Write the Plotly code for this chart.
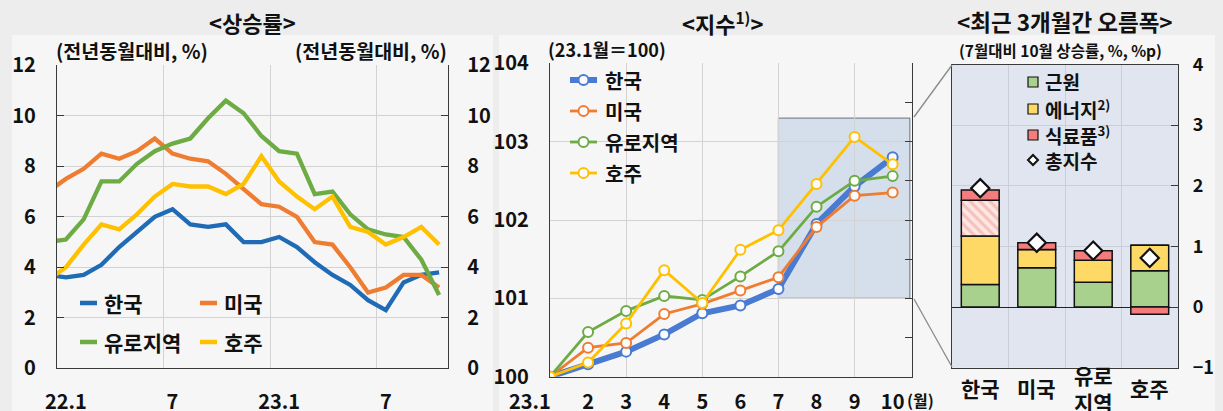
import plotly.graph_objects as go

W, H = 1223, 411
FONT = "Noto Sans CJK KR"

def fx(p):
    return p / W

def fy(p):
    return 1 - p / H

# ---------------- data ----------------
series_names = ["한국", "미국", "유로지역", "호주"]

# Panel 1: 전년동월대비 상승률 (%)
months1 = ["21.12", "22.1", "22.2", "22.3", "22.4", "22.5", "22.6", "22.7", "22.8", "22.9", "22.10",
           "22.11", "22.12", "23.1", "23.2", "23.3", "23.4", "23.5", "23.6", "23.7", "23.8",
           "23.9", "23.10"]
kor1 = [3.7, 3.6, 3.7, 4.1, 4.8, 5.4, 6.0, 6.3, 5.7, 5.6, 5.7, 5.0, 5.0, 5.2, 4.8, 4.2, 3.7, 3.3, 2.7, 2.3, 3.4, 3.7, 3.8]
usa1 = [7.0, 7.5, 7.9, 8.5, 8.3, 8.6, 9.1, 8.5, 8.3, 8.2, 7.7, 7.1, 6.5, 6.4, 6.0, 5.0, 4.9, 4.0, 3.0, 3.2, 3.7, 3.7, 3.2]
eur1 = [5.0, 5.1, 5.9, 7.4, 7.4, 8.1, 8.6, 8.9, 9.1, 9.9, 10.6, 10.1, 9.2, 8.6, 8.5, 6.9, 7.0, 6.1, 5.5, 5.3, 5.2, 4.3, 2.9]
aus1 = [3.5, 4.0, 4.9, 5.7, 5.5, 6.1, 6.8, 7.3, 7.2, 7.2, 6.9, 7.3, 8.4, 7.4, 6.8, 6.3, 6.8, 5.6, 5.4, 4.9, 5.2, 5.6, 4.9]
ticklabels1 = ["22.1", "7", "23.1", "7"]
ticklabel_months1 = ["22.1", "22.7", "23.1", "23.7"]
colors1 = ["#1f6bb6", "#ee7d32", "#6dab45", "#ffc000"]

# Panel 2: 지수 (23.1월=100)
months2 = ["23.1", "2", "3", "4", "5", "6", "7", "8", "9", "10"]
kor2 = [100.0, 100.16, 100.32, 100.54, 100.81, 100.91, 101.12, 101.95, 102.43, 102.80]
usa2 = [100.0, 100.37, 100.43, 100.80, 100.93, 101.10, 101.27, 101.91, 102.31, 102.35]
eur2 = [100.0, 100.57, 100.84, 101.03, 100.98, 101.28, 101.60, 102.17, 102.50, 102.56]
aus2 = [100.0, 100.18, 100.68, 101.36, 100.94, 101.62, 101.87, 102.46, 103.06, 102.71]
colors2 = ["#4a7bd2", "#ee7d32", "#6dab45", "#ffc000"]
zoom_box = {"x0": 7, "x1": 10.45, "y0": 101.0, "y1": 103.3}

# Panel 3: 최근 3개월간 오름폭 (7월대비 10월, %, %p)
categories3 = ["한국", "미국", "유로지역", "호주"]
category_labels3 = ["한국", "미국", "유로<br>지역", "호주"]
core3 = [0.37, 0.65, 0.41, 0.60]
energy3 = [0.80, 0.30, 0.36, 0.42]
food_hatched3 = [0.59, 0.0, 0.0, 0.0]
food3 = [0.17, 0.11, 0.16, -0.12]
total3 = [1.96, 1.06, 0.93, 0.81]
comp_names3 = ["근원", "에너지", "식료품", "총지수"]
comp_colors3 = ["#a9d18e", "#ffd966", "#f47c7c"]

# ---------------- figure ----------------
fig = go.Figure()

# Panel 1 lines
x1 = list(range(len(months1)))
for name, vals, col in zip(series_names, [kor1, usa1, eur1, aus1], colors1):
    fig.add_trace(go.Scatter(x=x1, y=vals, name=name, mode="lines",
                             line=dict(color=col, width=4.3),
                             xaxis="x", yaxis="y", showlegend=False, hoverinfo="skip"))
fig.add_trace(go.Scatter(x=[None], y=[None], xaxis="x", yaxis="y2", showlegend=False, hoverinfo="skip"))

# Panel 2 lines with markers
x2 = list(range(1, len(months2) + 1))
for i, (name, vals, col) in enumerate(zip(series_names, [kor2, usa2, eur2, aus2], colors2)):
    fig.add_trace(go.Scatter(x=x2, y=vals, name=name, mode="lines+markers",
                             line=dict(color=col, width=6 if i == 0 else 2.8),
                             marker=dict(symbol="circle", size=10, color="#fbfbfb",
                                         line=dict(color=col, width=2)),
                             xaxis="x2", yaxis="y3", showlegend=False, hoverinfo="skip"))
fig.add_trace(go.Scatter(x=[None], y=[None], xaxis="x2", yaxis="y4", showlegend=False, hoverinfo="skip"))

# Panel 3 stacked bars
bar_line = dict(color="#111111", width=1.5)
fig.add_trace(go.Bar(x=categories3, y=core3, name=comp_names3[0], width=0.67,
                     marker=dict(color=comp_colors3[0], line=bar_line),
                     xaxis="x3", yaxis="y5", showlegend=False, hoverinfo="skip"))
fig.add_trace(go.Bar(x=categories3, y=energy3, name=comp_names3[1], width=0.67,
                     marker=dict(color=comp_colors3[1], line=bar_line),
                     xaxis="x3", yaxis="y5", showlegend=False, hoverinfo="skip"))
fig.add_trace(go.Bar(x=categories3, y=food_hatched3, name=comp_names3[2] + "(빗금)", width=0.67,
                     marker=dict(color="#fde6e3", line=bar_line,
                                 pattern=dict(shape="\\", fgcolor="#f29a93", size=7, solidity=0.45)),
                     xaxis="x3", yaxis="y5", showlegend=False, hoverinfo="skip"))
fig.add_trace(go.Bar(x=categories3, y=food3, name=comp_names3[2], width=0.67,
                     marker=dict(color=comp_colors3[2], line=bar_line),
                     xaxis="x3", yaxis="y5", showlegend=False, hoverinfo="skip"))
fig.add_trace(go.Scatter(x=categories3, y=total3, name=comp_names3[3], mode="markers",
                         marker=dict(symbol="diamond", size=14, color="white",
                                     line=dict(color="#111111", width=2.2)),
                         xaxis="x3", yaxis="y5", showlegend=False, hoverinfo="skip"))

tickfont = dict(family=FONT, size=20, color="#111111", weight="bold")
axis_line = "#3a3a3a"
grid_col = "#d3d3d3"

layout = dict(
    width=W, height=H,
    margin=dict(l=0, r=0, t=0, b=0, autoexpand=False),
    paper_bgcolor="#ededed",
    plot_bgcolor="rgba(0,0,0,0)",
    barmode="relative",
    showlegend=False,
    font=dict(family=FONT, color="#111111"),
    # panel 1
    xaxis=dict(domain=[fx(57), fx(448)], anchor="y", range=[0.5, len(months1) - 0.5],
               tickvals=[months1.index(m) for m in ticklabel_months1], ticktext=ticklabels1,
               showgrid=False, ticks="", showline=True, linecolor=axis_line, linewidth=1.3,
               tickfont=tickfont, ticklabelstandoff=16, zeroline=False, automargin=False, tickangle=0,
               minor=dict(tickvals=[months1.index(m) - 0.5 for m in ticklabel_months1[1:]],
                          showgrid=True, gridcolor=grid_col, gridwidth=1, ticks="")),
    yaxis=dict(domain=[fy(368.3), fy(65.3)], anchor="x", range=[0, 12], dtick=2,
               showgrid=True, gridcolor=grid_col, ticks="inside", ticklen=7, tickcolor=axis_line,
               showline=True, linecolor=axis_line, linewidth=1.3, zeroline=False, automargin=False,
               tickfont=tickfont, ticklabelstandoff=16),
    yaxis2=dict(overlaying="y", anchor="x", side="right", range=[0, 12], dtick=2,
                showgrid=False, ticks="inside", ticklen=7, tickcolor=axis_line,
                showline=True, linecolor=axis_line, linewidth=1.3, zeroline=False, automargin=False,
                tickfont=tickfont, ticklabelstandoff=14),
    # panel 2
    xaxis2=dict(domain=[fx(550), fx(911.7)], anchor="y3", range=[1, 10.5],
                tickvals=x2, ticktext=[""] + months2[1:],
                showgrid=False, ticks="", showline=True, linecolor=axis_line, linewidth=1.3,
                tickfont=tickfont, ticklabelstandoff=7, zeroline=False, automargin=False, tickangle=0,
                minor=dict(tickvals=[3, 5, 7, 9], showgrid=True, gridcolor=grid_col, ticks="")),
    yaxis3=dict(domain=[fy(376.7), fy(63.3)], anchor="x2", range=[100, 104], dtick=1,
                showgrid=True, gridcolor=grid_col, ticks="", showline=True,
                linecolor=axis_line, linewidth=1.3, zeroline=False, automargin=False,
                tickfont=tickfont, ticklabelstandoff=16),
    yaxis4=dict(overlaying="y3", anchor="x2", side="right", range=[100, 104],
                tickvals=[100.5, 101, 101.5, 102, 102.5, 103, 103.5], showticklabels=False,
                showgrid=False, ticks="inside", ticklen=7, tickcolor=axis_line, automargin=False,
                showline=True, linecolor=axis_line, linewidth=1.3, zeroline=False),
    # panel 3
    xaxis3=dict(domain=[fx(952), fx(1178)], anchor="y5", type="category",
                categoryorder="array", categoryarray=categories3, range=[-0.5, 3.5],
                tickson="boundaries", showgrid=True, gridcolor="#c9ced8", ticks="",
                showticklabels=False, showline=True, mirror=True, linecolor=axis_line,
                linewidth=1.3, automargin=False),
    yaxis5=dict(domain=[fy(367.7), fy(64.5)], anchor="x3", side="right", range=[-1, 4], dtick=1,
                showgrid=True, gridcolor="#c9ced8", ticks="inside", ticklen=7, tickcolor=axis_line,
                showline=True, mirror=True, linecolor=axis_line, linewidth=1.3,
                zeroline=True, zerolinecolor="#222222", zerolinewidth=1.3, automargin=False,
                tickfont=dict(family=FONT, size=18, color="#111111", weight="bold"),
                ticklabelstandoff=10),
)
fig.update_layout(**layout)

shapes = []
# panel background boxes
shapes.append(dict(type="rect", xref="paper", yref="paper", x0=fx(12), x1=fx(493), y0=fy(411), y1=fy(35),
                   fillcolor="#f6f6f6", line=dict(width=0), layer="below"))
shapes.append(dict(type="rect", xref="paper", yref="paper", x0=fx(499), x1=fx(1215), y0=fy(411), y1=fy(35),
                   fillcolor="#f6f6f6", line=dict(width=0), layer="below"))
# panel 3 plot background
shapes.append(dict(type="rect", xref="x3 domain", yref="y5 domain", x0=0, x1=1, y0=0, y1=1,
                   fillcolor="#e0e5ef", line=dict(width=0), layer="below"))
# zoom box in panel 2
shapes.append(dict(type="rect", xref="x2", yref="y3", x0=zoom_box["x0"], x1=zoom_box["x1"],
                   y0=zoom_box["y0"], y1=zoom_box["y1"], fillcolor="#d5dfec",
                   line=dict(color="#7d8794", width=1.2), layer="below"))
# connector lines
shapes.append(dict(type="line", xref="paper", yref="paper", x0=fx(914), y0=fy(117), x1=fx(952), y1=fy(65),
                   line=dict(color="#8a8a8a", width=1.3)))
shapes.append(dict(type="line", xref="paper", yref="paper", x0=fx(914), y0=fy(299), x1=fx(952), y1=fy(367),
                   line=dict(color="#8a8a8a", width=1.3)))

annotations = []

def text(x, y, s, size, xanchor="left", color="#111111", weight="bold"):
    annotations.append(dict(x=fx(x), y=fy(y), xref="paper", yref="paper", text=s, showarrow=False,
                            xanchor=xanchor, yanchor="middle",
                            font=dict(family=FONT, size=size, color=color, weight=weight)))

# titles
text(252, 22, "&lt;상승률&gt;", 22, "center")
text(722, 22, "&lt;지수<sup>1)</sup>&gt;", 22, "center")
text(1065, 21, "&lt;최근 3개월간 오름폭&gt;", 22.5, "center")
# subtitles
text(54, 51, "(전년동월대비, %)", 19.5)
text(449, 51, "(전년동월대비, %)", 19.5, "right")
text(546, 49, "(23.1월＝100)", 18)
text(1060, 50, "(7월대비 10월 상승률, %, %p)", 15.5, "center")
text(905, 400, "(월)", 16)
# first x label of panel 2 (set slightly left of its point as in the reference)
text(530, 400, months2[0], 20, "center")

# panel 1 legend
leg1 = [(80, 303), (200, 303), (80, 342), (200, 342)]
for (lx, ly), name, col in zip(leg1, series_names, colors1):
    shapes.append(dict(type="line", xref="paper", yref="paper", x0=fx(lx), x1=fx(lx + 17), y0=fy(ly), y1=fy(ly),
                       line=dict(color=col, width=4.5)))
    text(lx + 22, ly, name, 21)

# panel 2 legend
for i, (name, col) in enumerate(zip(series_names, colors2)):
    ly = 80 + i * 31
    shapes.append(dict(type="line", xref="paper", yref="paper", x0=fx(570), x1=fx(597), y0=fy(ly), y1=fy(ly),
                       line=dict(color=col, width=6 if i == 0 else 2.8)))
    shapes.append(dict(type="circle", xref="paper", yref="paper", x0=fx(578.5), x1=fx(588.5),
                       y0=fy(ly + 5), y1=fy(ly - 5), fillcolor="#fbfbfb", line=dict(color=col, width=2)))
    text(603, ly, name, 20)

# panel 3 legend
leg3_rows = [82, 109, 135, 160]
sups = ["", "<sup>2)</sup>", "<sup>3)</sup>"]
for ly, name, col, sup in zip(leg3_rows[:3], comp_names3[:3], comp_colors3, sups):
    shapes.append(dict(type="rect", xref="paper", yref="paper", x0=fx(1028), x1=fx(1038),
                       y0=fy(ly + 5), y1=fy(ly - 5), fillcolor=col, line=dict(color="#111111", width=1.2)))
    text(1043, ly, name + sup, 19)
ly = leg3_rows[3]
shapes.append(dict(type="path", xref="paper", yref="paper",
                   path=f"M {fx(1033)},{fy(ly - 5)} L {fx(1038)},{fy(ly)} L {fx(1033)},{fy(ly + 5)} L {fx(1028)},{fy(ly)} Z",
                   fillcolor="white", line=dict(color="#111111", width=2)))
text(1043, ly, comp_names3[3], 19)

# panel 3 category labels
for cat, lab in zip(categories3, category_labels3):
    annotations.append(dict(x=cat, y=fy(388), xref="x3", yref="paper", text=lab, showarrow=False,
                            xanchor="center", yanchor="middle",
                            font=dict(family=FONT, size=21, color="#111111", weight="bold")))

fig.update_layout(shapes=shapes, annotations=annotations)
fig.write_html("out.html")
